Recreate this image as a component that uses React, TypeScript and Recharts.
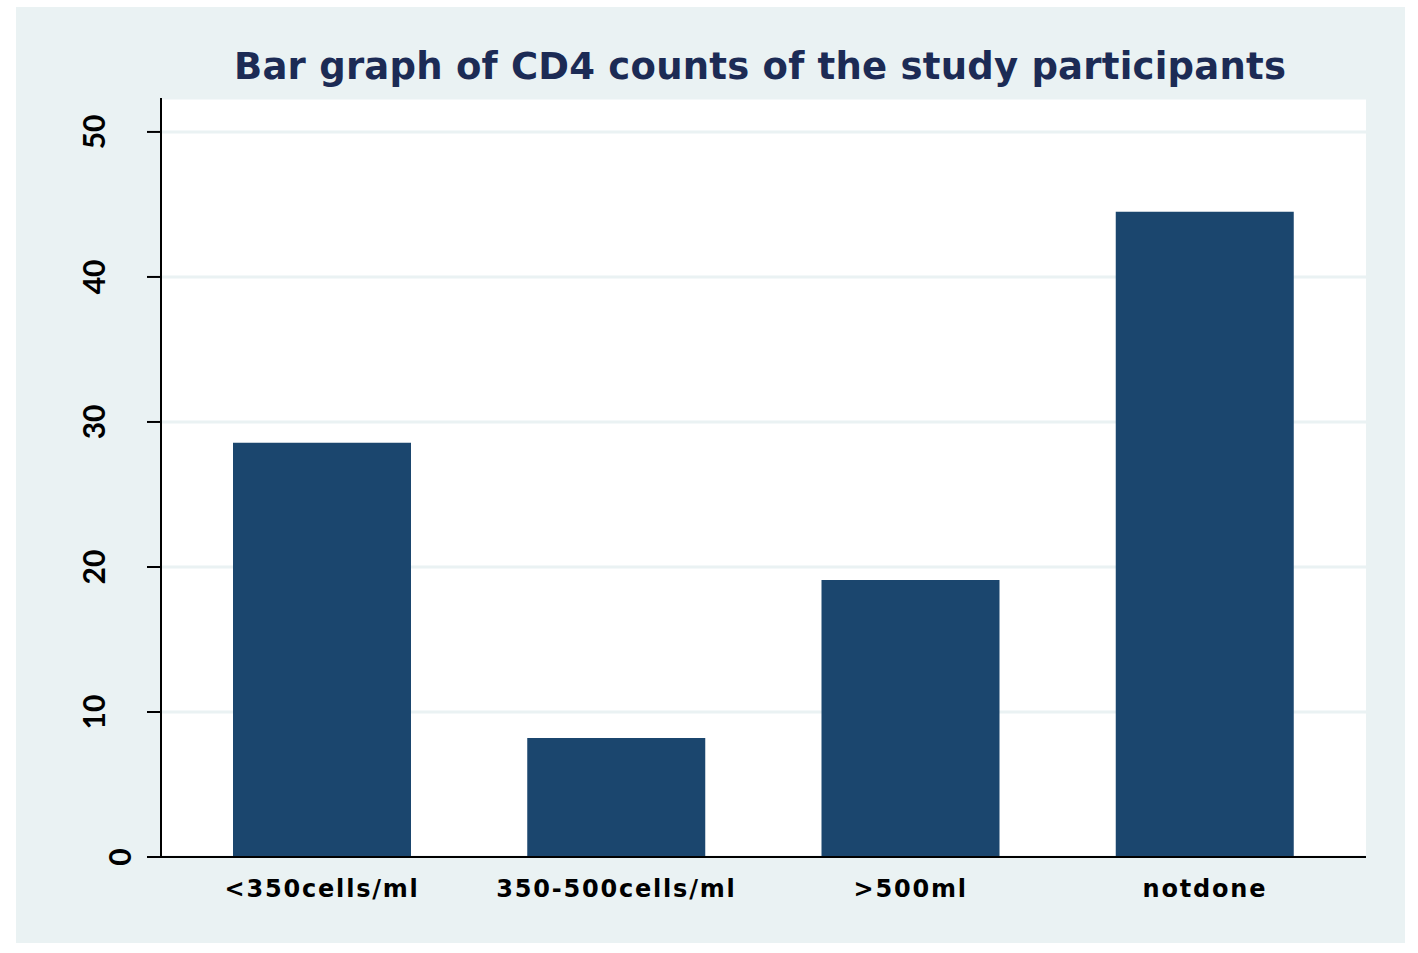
import React from "react";
import { BarChart, Bar, XAxis, YAxis, CartesianGrid } from "recharts";

const categories = ["<350cells/ml", "350-500cells/ml", ">500ml", "notdone"];
const percentValues = [28.57, 8.2, 19.1, 44.5];
const yTicks = [0, 10, 20, 30, 40, 50];
const titleText = "Bar graph of CD4 counts of the study participants";

const data = categories.map((c, i) => ({ cat: c, value: percentValues[i] }));

const BAR = "#1B466E";
const PANEL = "#EAF2F3";

const YTick = (props: any) => {
  const { x, y, payload } = props;
  const single = String(payload.value).length === 1;
  const tx = x - (single ? 16 : 42);
  return (
    <text
      transform={`translate(${tx}, ${y}) rotate(-90)`}
      textAnchor="middle"
      fontFamily="Lato, 'DejaVu Sans', sans-serif"
      fontWeight={700}
      fontSize={30}
      fill="#000"
    >
      {payload.value}
    </text>
  );
};

const XTick = (props: any) => {
  const { x, y, payload } = props;
  return (
    <text
      x={x}
      y={y + 40}
      textAnchor="middle"
      fontFamily="'DejaVu Sans', sans-serif"
      fontWeight={700}
      fontSize={24}
      letterSpacing={1.8}
      fill="#000"
    >
      {payload.value}
    </text>
  );
};

export default function App() {
  return (
    <div style={{ position: "absolute", left: 0, top: 0, width: 1418, height: 953, background: "#fff" }}>
      <div style={{ position: "absolute", left: 16, top: 7, width: 1389, height: 936, background: PANEL }} />
      <div style={{ position: "absolute", left: 0, top: 0 }}>
        <BarChart
          width={1418}
          height={953}
          data={data}
          margin={{ top: 98, right: 52, bottom: 56, left: 101 }}
        >
          <CartesianGrid vertical={false} fill="#fff" stroke={PANEL} strokeWidth={3} />
          <XAxis
            dataKey="cat"
            padding={{ left: 14, right: 14 }}
            height={40}
            tickLine={false}
            tickSize={0}
            tickMargin={0}
            axisLine={{ stroke: "#000", strokeWidth: 2 }}
            tick={<XTick />}
            interval={0}
          />
          <YAxis
            width={60}
            domain={[0, 52.34]}
            ticks={yTicks}
            allowDataOverflow
            tickSize={14}
            tickMargin={0}
            tickLine={{ stroke: "#000", strokeWidth: 2 }}
            axisLine={{ stroke: "#000", strokeWidth: 2 }}
            tick={<YTick />}
            interval={0}
          />
          <Bar dataKey="value" fill={BAR} barSize={178} isAnimationActive={false} />
        </BarChart>
      </div>
      <svg style={{ position: "absolute", left: 0, top: 0 }} width={1418} height={953} pointerEvents="none">
        <text
          x={760}
          y={79}
          textAnchor="middle"
          fontFamily="'DejaVu Sans', sans-serif"
          fontWeight={700}
          fontSize={37}
          fill="#1C2B55"
          textLength={1052}
          lengthAdjust="spacing"
        >
          {titleText}
        </text>
      </svg>
    </div>
  );
}
